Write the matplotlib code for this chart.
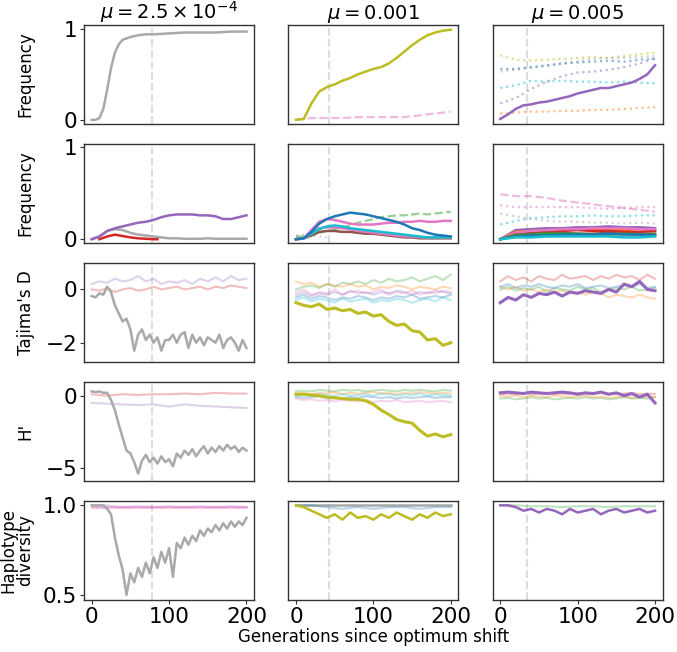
import matplotlib
matplotlib.use("Agg")
import matplotlib.pyplot as plt
import numpy as np

# generation grids
g5 = np.arange(0, 201, 5)
g10 = np.arange(0, 201, 10)
g20 = np.arange(0, 201, 20)

titles = [r"$\mu = 2.5\times10^{-4}$", r"$\mu = 0.001$", r"$\mu = 0.005$"]
ylabels = ["Frequency", "Frequency", "Tajima's D", "H'", "Haplotype\ndiversity"]
shift_gen = [78, 43, 35]

# ---- row 1: frequency of the sweeping allele ----
f1a_x = [0, 5, 10, 15, 20, 25, 30, 35, 40, 50, 60, 70, 80, 100, 120, 140, 160, 180, 200]
f1a_gray = [0.0, 0.0, 0.02, 0.12, 0.33, 0.57, 0.74, 0.83, 0.88, 0.91, 0.93, 0.94, 0.94,
            0.95, 0.96, 0.96, 0.96, 0.97, 0.97]
f1b_olive = [0.0, 0.01, 0.18, 0.31, 0.36, 0.39, 0.43, 0.46, 0.50, 0.53, 0.56, 0.58, 0.62,
             0.68, 0.75, 0.82, 0.88, 0.93, 0.96, 0.98, 0.99]
f1b_pink = [0.0, 0.02, 0.02, 0.02, 0.03, 0.03, 0.03, 0.03, 0.05, 0.07, 0.09]
f1c_purple = [0.01, 0.06, 0.12, 0.16, 0.17, 0.19, 0.20, 0.22, 0.24, 0.26, 0.29, 0.31, 0.33,
              0.35, 0.35, 0.37, 0.39, 0.41, 0.45, 0.50, 0.60]
f1c_olive_d = [0.71, 0.66, 0.65, 0.66, 0.67, 0.68, 0.69, 0.68, 0.70, 0.72, 0.74]
f1c_gray_d = [0.53, 0.55, 0.57, 0.59, 0.62, 0.64, 0.67, 0.68, 0.68, 0.69, 0.70]
f1c_blue_d = [0.56, 0.56, 0.58, 0.60, 0.62, 0.63, 0.64, 0.65, 0.64, 0.66, 0.67]
f1c_cyan_d = [0.35, 0.38, 0.43, 0.42, 0.43, 0.42, 0.42, 0.41, 0.42, 0.41, 0.40]
f1c_purple_d = [0.18, 0.24, 0.34, 0.42, 0.48, 0.52, 0.53, 0.55, 0.58, 0.62, 0.68]
f1c_orange_d = [0.07, 0.08, 0.09, 0.09, 0.10, 0.10, 0.11, 0.11, 0.12, 0.13, 0.14]

# ---- row 2: frequency of other alleles ----
f2a_purple = [0, 0.03, 0.09, 0.12, 0.14, 0.16, 0.18, 0.19, 0.21, 0.24, 0.26, 0.27, 0.27,
              0.27, 0.26, 0.26, 0.25, 0.22, 0.22, 0.24, 0.26]
f2a_gray = [0, 0.03, 0.09, 0.11, 0.10, 0.07, 0.05, 0.04, 0.03, 0.02, 0.01, 0.01, 0.005,
            0.005, 0.005, 0.01, 0.005, 0.005, 0.005, 0.005, 0.005]
f2a_red_x = [10, 20, 30, 40, 50, 60, 70, 80, 85]
f2a_red = [0.0, 0.03, 0.05, 0.035, 0.02, 0.01, 0.005, 0.0, 0.0]
f2b_blue = [0, 0.01, 0.08, 0.17, 0.22, 0.25, 0.27, 0.29, 0.28, 0.27, 0.25, 0.23, 0.21,
            0.19, 0.16, 0.12, 0.10, 0.07, 0.05, 0.04, 0.03]
f2b_green_d = [0.03, 0.03, 0.05, 0.07, 0.09, 0.11, 0.13, 0.15, 0.18, 0.20, 0.22, 0.24, 0.25,
               0.26, 0.26, 0.27, 0.28, 0.27, 0.28, 0.29, 0.30]
f2b_pink = [0, 0.01, 0.10, 0.19, 0.22, 0.21, 0.19, 0.17, 0.16, 0.16, 0.16, 0.17, 0.18,
            0.18, 0.19, 0.19, 0.20, 0.19, 0.19, 0.20, 0.20]
f2b_pink2 = [0, 0.01, 0.06, 0.12, 0.13, 0.13, 0.12, 0.11, 0.09, 0.08, 0.07, 0.06, 0.05,
             0.04, 0.03, 0.03, 0.02, 0.02, 0.02, 0.02, 0.02]
f2b_cyan = [0, 0.01, 0.06, 0.11, 0.14, 0.15, 0.14, 0.12, 0.11, 0.10, 0.09, 0.08, 0.07,
            0.06, 0.05, 0.04, 0.03, 0.02, 0.02, 0.02, 0.02]
f2b_brown = [0, 0.01, 0.04, 0.08, 0.09, 0.09, 0.08, 0.08, 0.07, 0.06, 0.06, 0.05, 0.04,
             0.03, 0.02, 0.02, 0.01, 0.01, 0.01, 0.01, 0.01]
f2b_gray_x = [0, 10, 20, 30, 40]
f2b_gray_d = [0.04, 0.05, 0.04, 0.03, 0.02]
f2c_pink_dash = [0.49, 0.47, 0.47, 0.45, 0.42, 0.40, 0.38, 0.36, 0.34, 0.32, 0.30]
f2c_pink_d = [0.37, 0.35, 0.35, 0.35, 0.35, 0.35, 0.34, 0.33, 0.34, 0.35, 0.35]
f2c_cyan_d = [0.16, 0.20, 0.23, 0.24, 0.25, 0.25, 0.26, 0.25, 0.25, 0.26, 0.26]
f2c_gray_d = [0.28, 0.25, 0.22, 0.20, 0.19, 0.19, 0.18, 0.18, 0.17, 0.18, 0.17]
f2c_purple = [0.0, 0.10, 0.11, 0.12, 0.12, 0.13, 0.13, 0.14, 0.13, 0.13, 0.12]
f2c_orange = [0.0, 0.08, 0.09, 0.10, 0.10, 0.11, 0.10, 0.10, 0.10, 0.11, 0.10]
f2c_red = [0.0, 0.06, 0.08, 0.08, 0.09, 0.10, 0.09, 0.09, 0.08, 0.08, 0.09]
f2c_pink = [0.0, 0.07, 0.09, 0.10, 0.11, 0.11, 0.12, 0.12, 0.12, 0.11, 0.11]
f2c_brown = [0.0, 0.05, 0.06, 0.07, 0.07, 0.06, 0.06, 0.07, 0.06, 0.06, 0.06]
f2c_green = [0.0, 0.04, 0.05, 0.06, 0.06, 0.06, 0.05, 0.05, 0.06, 0.05, 0.05]
f2c_blue = [0.0, 0.03, 0.04, 0.04, 0.05, 0.05, 0.05, 0.06, 0.05, 0.05, 0.04]
f2c_cyan = [0.0, 0.02, 0.02, 0.03, 0.03, 0.03, 0.03, 0.03, 0.02, 0.02, 0.03]

# ---- row 3: Tajima's D ----
td_a_gray = [-0.25, -0.3, -0.15, -0.2, 0.1, -0.1, -0.6, -0.9, -1.2, -1.1, -1.5, -2.3, -1.7,
             -1.5, -1.9, -1.7, -2.0, -1.8, -2.3, -1.9, -1.9, -1.7, -2.0, -1.7, -1.6, -2.2,
             -1.7, -2.0, -1.8, -2.1, -1.8, -1.9, -2.0, -1.7, -2.2, -1.9, -1.8, -2.0, -2.3,
             -1.9, -2.2]
td_a_red = [0.0, -0.05, 0.05, -0.1, 0.0, 0.05, -0.05, 0.0, 0.1, 0.0, 0.05, 0.1, 0.0, 0.05,
            0.1, 0.0, 0.1, 0.05, 0.15, 0.1, 0.05]
td_a_purple = [0.2, 0.3, 0.25, 0.4, 0.3, 0.35, 0.5, 0.3, 0.4, 0.2, 0.3, 0.25, 0.35, 0.2, 0.4,
               0.3, 0.45, 0.3, 0.5, 0.35, 0.4]
td_b_olive = [-0.5, -0.6, -0.65, -0.55, -0.75, -0.7, -0.8, -0.75, -0.9, -0.85, -1.0, -0.95,
              -1.2, -1.35, -1.3, -1.55, -1.6, -1.9, -1.85, -2.1, -2.0]
td_b_green = [0.0, 0.1, 0.15, 0.05, 0.2, 0.1, 0.25, 0.2, 0.3, 0.2, 0.35, 0.25, 0.4, 0.3, 0.35,
              0.45, 0.3, 0.4, 0.5, 0.35, 0.55]
td_b_orange = [0.3, 0.2, 0.25, 0.1, 0.2, 0.15, 0.1, 0.2, 0.1, 0.15, 0.0, 0.1, 0.05, 0.15, 0.1,
               0.0, 0.1, 0.05, 0.0, 0.1, 0.05]
td_b_pink = [-0.1, 0.0, -0.2, -0.1, -0.15, 0.0, -0.2, -0.1, -0.05, -0.15, -0.1, 0.0, -0.2,
             -0.1, -0.15, -0.05, -0.2, -0.1, -0.15, -0.05, -0.1]
td_b_blue = [-0.3, -0.2, -0.35, -0.25, -0.3, -0.4, -0.3, -0.35, -0.25, -0.3, -0.4, -0.3, -0.35,
             -0.25, -0.3, -0.2, -0.35, -0.3, -0.25, -0.3, -0.2]
td_b_purple = [-0.2, -0.1, -0.25, -0.15, -0.2, -0.1, -0.2, -0.05, -0.15, -0.1, -0.2, -0.1,
               -0.15, -0.05, -0.1, -0.2, -0.1, -0.15, -0.05, -0.1, -0.15]
td_b_cyan = [-0.4, -0.3, -0.45, -0.35, -0.4, -0.5, -0.35, -0.45, -0.4, -0.35, -0.5, -0.4,
             -0.45, -0.35, -0.4, -0.5, -0.4, -0.35, -0.45, -0.3, -0.4]
td_c_purple = [-0.5, -0.3, -0.4, -0.2, -0.3, -0.15, -0.2, -0.1, -0.25, -0.1, -0.15, -0.05,
               -0.1, -0.15, 0.0, -0.1, 0.2, 0.1, 0.3, 0.0, -0.05]
td_c_pink = [0.3, 0.5, 0.35, 0.45, 0.3, 0.5, 0.4, 0.35, 0.55, 0.4, 0.45, 0.5, 0.35, 0.5, 0.4,
             0.55, 0.45, 0.5, 0.35, 0.55, 0.4]
td_c_orange = [0.1, 0.0, 0.1, -0.05, 0.0, -0.1, 0.0, -0.1, -0.05, -0.15, -0.1, -0.2, -0.1,
               -0.15, -0.3, -0.2, -0.25, -0.3, -0.2, -0.3, -0.35]
td_c_green = [0.0, 0.1, -0.05, 0.05, 0.0, 0.1, -0.1, 0.05, 0.0, -0.05, 0.1, 0.0, 0.05, -0.1,
              0.0, 0.05, 0.0, 0.1, -0.05, 0.0, 0.05]
td_c_blue = [0.1, 0.2, 0.05, 0.15, 0.1, 0.2, 0.1, 0.05, 0.15, 0.1, 0.2, 0.05, 0.1, 0.15, 0.05,
             0.1, 0.15, 0.1, 0.2, 0.05, 0.1]

# ---- row 4: H' ----
h_a_gray = [0.3, 0.25, 0.3, 0.2, 0.2, -0.3, -1.0, -2.0, -2.9, -3.8, -4.0, -4.6, -5.4, -4.5,
            -4.1, -4.6, -4.3, -4.7, -4.2, -4.6, -4.4, -4.9, -4.0, -4.3, -3.8, -4.1, -3.7,
            -4.2, -3.8, -3.5, -4.0, -3.6, -3.9, -3.5, -3.8, -3.4, -3.7, -3.5, -3.9, -3.6, -3.8]
h_a_red = [0.1, 0.0, 0.1, 0.05, 0.1, 0.1, 0.15, 0.1, 0.2, 0.15, 0.15]
h_a_purple = [-0.5, -0.55, -0.6, -0.65, -0.6, -0.75, -0.6, -0.7, -0.75, -0.8, -0.85]
h_b_olive = [0.1, 0.1, 0.05, 0.0, -0.1, -0.15, -0.2, -0.25, -0.25, -0.35, -0.6, -1.0, -1.3,
             -1.65, -1.8, -1.9, -2.4, -2.8, -2.65, -2.85, -2.7]
h_b_green = [0.3, 0.35, 0.3, 0.4, 0.35, 0.3, 0.4, 0.35, 0.4, 0.3, 0.35, 0.4, 0.35, 0.3, 0.4,
             0.35, 0.4, 0.35, 0.3, 0.4, 0.35]
h_b_cyan = [0.0, 0.05, 0.0, 0.1, 0.05, 0.0, 0.1, 0.0, 0.05, 0.1, 0.0, 0.15, 0.1, 0.0, 0.1,
            0.05, 0.15, 0.0, 0.1, 0.05, 0.0]
h_b_blue = [-0.1, -0.15, -0.1, -0.05, -0.15, -0.1, -0.2, -0.1, -0.15, -0.05, -0.1, -0.15,
            -0.1, -0.2, -0.1, -0.15, -0.1, -0.05, -0.15, -0.1, -0.1]
h_b_pink = [-0.2, -0.3, -0.25, -0.35, -0.3, -0.4, -0.3, -0.35, -0.4, -0.3, -0.45, -0.35,
            -0.4, -0.3, -0.45, -0.4, -0.35, -0.45, -0.4, -0.35, -0.45]
h_b_orange = [0.15, 0.2, 0.1, 0.2, 0.15, 0.25, 0.1, 0.2, 0.15, 0.2, 0.25, 0.15, 0.2, 0.1, 0.2,
              0.15, 0.25, 0.2, 0.15, 0.2, 0.15]
h_c_purple = [0.2, 0.25, 0.2, 0.15, 0.25, 0.2, 0.15, 0.2, 0.25, 0.2, 0.1, 0.2, 0.15, 0.25,
              0.1, 0.2, 0.0, 0.15, -0.1, 0.1, -0.5]
h_c_green = [-0.2, -0.15, -0.25, -0.2, -0.1, -0.2, -0.15, -0.25, -0.2, -0.15, -0.2, -0.1,
             -0.2, -0.15, -0.25, -0.2, -0.1, -0.2, -0.15, -0.2, -0.1]
h_c_orange = [0.0, -0.05, 0.0, -0.1, 0.0, -0.05, -0.1, 0.0, -0.05, -0.1, -0.05, 0.0, -0.1,
              -0.05, -0.15, -0.1, -0.05, -0.15, -0.1, -0.05, -0.1]
h_c_red = [0.1, 0.15, 0.1, 0.2, 0.1, 0.15, 0.2, 0.1, 0.15, 0.1, 0.2, 0.15, 0.1, 0.2, 0.15,
           0.1, 0.15, 0.2, 0.1, 0.15, 0.1]

# ---- row 5: haplotype diversity ----
hd_a_gray = [1.0, 1.0, 1.0, 1.0, 0.98, 0.95, 0.82, 0.72, 0.64, 0.5, 0.62, 0.57, 0.65, 0.6,
             0.68, 0.62, 0.71, 0.65, 0.74, 0.68, 0.76, 0.6, 0.79, 0.76, 0.82, 0.78, 0.83,
             0.8, 0.86, 0.83, 0.87, 0.85, 0.89, 0.86, 0.9, 0.87, 0.91, 0.88, 0.91, 0.89, 0.93]
hd_a_pink = [0.99, 0.99, 0.99, 0.99, 0.99, 0.99, 0.99, 0.99, 0.99, 0.99, 0.99]
hd_a_purple = [1.0, 1.0, 0.99, 0.995, 0.99, 0.995, 0.99, 0.995, 0.99, 0.995, 0.99]
hd_b_olive = [1.0, 0.99, 0.97, 0.95, 0.93, 0.95, 0.92, 0.96, 0.93, 0.94, 0.92, 0.95, 0.93,
              0.96, 0.94, 0.92, 0.95, 0.93, 0.96, 0.94, 0.95]
hd_b_blue = [1.0, 1.0, 0.99, 0.98, 0.99, 0.98, 0.99, 0.99, 0.98, 0.99, 0.99]
hd_b_gray = [1.0, 1.0, 1.0, 1.0, 1.0, 1.0, 1.0, 1.0, 1.0, 1.0, 1.0]
hd_c_purple = [1.0, 1.0, 0.99, 0.97, 0.98, 0.96, 0.98, 0.97, 0.95, 0.98, 0.96, 0.97, 0.98,
               0.95, 0.97, 0.98, 0.96, 0.97, 0.98, 0.96, 0.97]
hd_c_green = [1.0, 1.0, 0.995, 0.995, 0.99, 0.995, 0.995, 0.99, 0.995, 0.995, 0.995]

C = {"blue": "#1f77b4", "orange": "#ff7f0e", "green": "#2ca02c", "red": "#d62728",
     "purple": "#9467bd", "brown": "#8c564b", "pink": "#e377c2", "gray": "#a9a9a9",
     "olive": "#bcbd22", "cyan": "#17becf"}

MAIN = dict(lw=1.8, alpha=1.0)
BOLD = dict(lw=2.2, alpha=1.0)
FAINT = dict(lw=1.5, alpha=0.3)
DOT = dict(lw=1.6, alpha=0.5, ls=":")
DASH = dict(lw=1.6, alpha=0.5, ls="--")

panels = {
    (0, 0): [(f1a_x, f1a_gray, "gray", MAIN)],
    (0, 1): [(g20, f1b_pink, "pink", DASH), (g10, f1b_olive, "olive", MAIN)],
    (0, 2): [(g20, f1c_olive_d, "olive", DOT), (g20, f1c_gray_d, "gray", DOT),
             (g20, f1c_blue_d, "blue", DOT), (g20, f1c_cyan_d, "cyan", DOT),
             (g20, f1c_purple_d, "purple", DOT), (g20, f1c_orange_d, "orange", DOT),
             (g10, f1c_purple, "purple", MAIN)],
    (1, 0): [(g10, f2a_gray, "gray", MAIN), (g10, f2a_purple, "purple", MAIN),
             (f2a_red_x, f2a_red, "red", MAIN)],
    (1, 1): [(f2b_gray_x, f2b_gray_d, "gray", DOT), (g10, f2b_green_d, "green", DASH),
             (g10, f2b_brown, "brown", MAIN), (g10, f2b_pink2, "pink", MAIN),
             (g10, f2b_pink, "pink", MAIN), (g10, f2b_cyan, "cyan", MAIN),
             (g10, f2b_blue, "blue", MAIN)],
    (1, 2): [(g20, f2c_pink_dash, "pink", DASH), (g20, f2c_pink_d, "pink", DOT),
             (g20, f2c_cyan_d, "cyan", DOT), (g20, f2c_gray_d, "gray", DOT),
             (g20, f2c_purple, "purple", MAIN), (g20, f2c_orange, "orange", MAIN),
             (g20, f2c_red, "red", MAIN), (g20, f2c_pink, "pink", MAIN),
             (g20, f2c_brown, "brown", MAIN), (g20, f2c_green, "green", MAIN),
             (g20, f2c_blue, "blue", MAIN), (g20, f2c_cyan, "cyan", MAIN)],
    (2, 0): [(g10, td_a_purple, "purple", FAINT), (g10, td_a_red, "red", FAINT),
             (g5, td_a_gray, "gray", MAIN)],
    (2, 1): [(g10, td_b_green, "green", FAINT), (g10, td_b_orange, "orange", FAINT),
             (g10, td_b_pink, "pink", FAINT), (g10, td_b_blue, "blue", FAINT),
             (g10, td_b_purple, "purple", FAINT), (g10, td_b_cyan, "cyan", FAINT),
             (g10, td_b_olive, "olive", BOLD)],
    (2, 2): [(g10, td_c_pink, "red", FAINT), (g10, td_c_orange, "orange", FAINT),
             (g10, td_c_green, "green", FAINT), (g10, td_c_blue, "blue", FAINT),
             (g10, td_c_purple, "purple", BOLD)],
    (3, 0): [(g20, h_a_red, "red", FAINT), (g20, h_a_purple, "purple", FAINT),
             (g5, h_a_gray, "gray", MAIN)],
    (3, 1): [(g10, h_b_green, "green", FAINT), (g10, h_b_orange, "orange", FAINT),
             (g10, h_b_cyan, "cyan", FAINT), (g10, h_b_blue, "blue", FAINT),
             (g10, h_b_pink, "pink", FAINT), (g10, h_b_olive, "olive", BOLD)],
    (3, 2): [(g10, h_c_green, "green", FAINT), (g10, h_c_orange, "orange", FAINT),
             (g10, h_c_red, "red", FAINT), (g10, h_c_purple, "purple", BOLD)],
    (4, 0): [(g20, hd_a_purple, "purple", FAINT),
             (g20, hd_a_pink, "pink", dict(lw=1.8, alpha=0.6)),
             (g5, hd_a_gray, "gray", MAIN)],
    (4, 1): [(g20, hd_b_gray, "gray", MAIN), (g20, hd_b_blue, "blue", FAINT),
             (g10, hd_b_olive, "olive", MAIN)],
    (4, 2): [(g20, hd_c_green, "green", FAINT), (g10, hd_c_purple, "purple", MAIN)],
}

row_ylim = [(-0.045, 1.045), (-0.04, 1.04), (-2.72, 1.0), (-5.9, 0.97), (0.472, 1.026)]
row_yticks = [[0, 1], [0, 1], [-2, 0], [-5, 0], [0.5, 1.0]]
row_yticklabels = [["0", "1"], ["0", "1"], ["\u22122", "0"], ["\u22125", "0"], ["0.5", "1.0"]]

fig, axes = plt.subplots(5, 3, figsize=(6.77, 6.52), dpi=100)
plt.subplots_adjust(left=0.124, right=0.979, top=0.962, bottom=0.080, wspace=0.2, hspace=0.2)

for r in range(5):
    for c in range(3):
        ax = axes[r, c]
        ax.axvline(shift_gen[c], color="#dddddd", ls="--", lw=1.5, zorder=0)
        for x, y, col, st in panels[(r, c)]:
            ax.plot(x, y, color=C[col], **st)
        ax.set_xlim(-10, 210)
        ax.set_ylim(*row_ylim[r])
        ax.set_yticks(row_yticks[r])
        ax.set_xticks([0, 100, 200])
        for s in ax.spines.values():
            s.set_color("#333333")
            s.set_linewidth(1.0)
        ax.tick_params(labelsize=15.5, length=3, width=0.8, color="#333333", pad=2)
        if c == 0:
            ax.set_yticklabels(row_yticklabels[r])
            ax.set_ylabel(ylabels[r], fontsize=12, linespacing=0.95)
            ax.yaxis.set_label_coords(-0.29, 0.5)
        else:
            ax.tick_params(left=False, labelleft=False)
        if r < 4:
            ax.tick_params(bottom=False, labelbottom=False)
        if r == 0:
            ax.set_title(titles[c], fontsize=14, pad=3)

axes[4, 1].set_xlabel("Generations since optimum shift", fontsize=12, labelpad=1)

plt.savefig("out.png", dpi=100)
